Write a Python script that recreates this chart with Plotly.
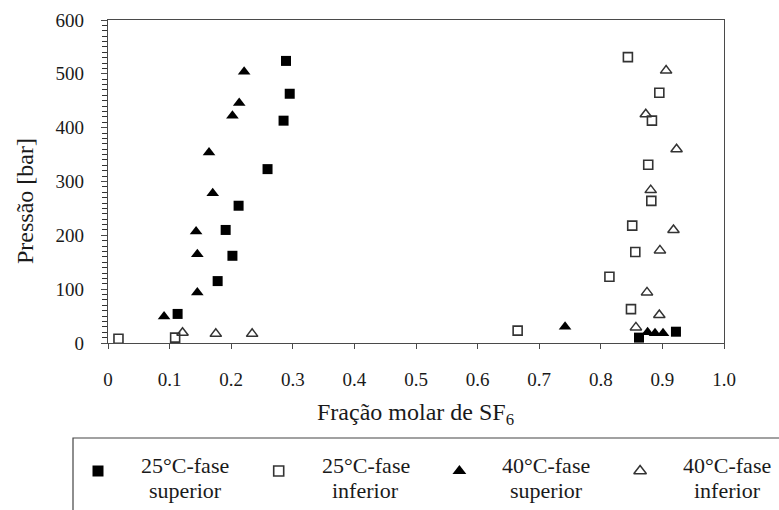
import plotly.graph_objects as go

# Phase-equilibrium data: SF6 mole fraction vs pressure (bar)
x_25_sup = [0.289, 0.295, 0.285, 0.259, 0.212, 0.191, 0.202, 0.178, 0.113, 0.862, 0.922]
p_25_sup = [524, 463, 413, 323, 255, 210, 162, 115, 54, 10, 21]

x_25_inf = [0.017, 0.109, 0.665, 0.844, 0.895, 0.883, 0.877, 0.882, 0.851, 0.856, 0.814, 0.849]
p_25_inf = [8, 10, 23, 531, 465, 413, 331, 264, 218, 169, 123, 63]

x_40_sup = [0.221, 0.213, 0.202, 0.164, 0.170, 0.143, 0.145, 0.145, 0.091, 0.742, 0.876, 0.888, 0.901]
p_40_sup = [504, 446, 422, 354, 278, 207, 165, 94, 49, 30, 20, 18, 18]

x_40_inf = [0.121, 0.175, 0.234, 0.906, 0.873, 0.923, 0.881, 0.918, 0.896, 0.875, 0.895, 0.857]
p_40_inf = [19, 17, 17, 506, 425, 360, 284, 210, 172, 94, 52, 29]

x_tick_vals = [0, 0.1, 0.2, 0.3, 0.4, 0.5, 0.6, 0.7, 0.8, 0.9, 1.0]
x_tick_text = ["0", "0.1", "0.2", "0.3", "0.4", "0.5", "0.6", "0.7", "0.8", "0.9", "1.0"]

legend_line1 = ["25°C-fase", "25°C-fase", "40°C-fase", "40°C-fase"]
legend_line2 = ["superior", "inferior", "superior", "inferior"]

W, H = 779, 510
SERIF = "Liberation Serif"
TEXT = "#1a1a1a"
FRAME = "#4a4a4a"

styles = [
    dict(symbol="square", size=10, color="#000000", line=dict(width=0)),
    dict(symbol="square-open", size=9, color="#333333", line=dict(width=1.6)),
    dict(symbol="triangle-up", size=11, color="#000000", line=dict(width=0)),
    dict(symbol="triangle-up-open", size=10, color="#333333", line=dict(width=1.5)),
]
data = [(x_25_sup, p_25_sup), (x_25_inf, p_25_inf), (x_40_sup, p_40_sup), (x_40_inf, p_40_inf)]

fig = go.Figure()
for (xs, ps), st, l1, l2 in zip(data, styles, legend_line1, legend_line2):
    fig.add_trace(go.Scatter(
        x=xs, y=ps, mode="markers", name=f"{l1} {l2}",
        marker=st, cliponaxis=False, showlegend=False,
        xaxis="x", yaxis="y",
    ))

# Legend drawn in a page-sized pixel overlay (x2/y2)
leg_x0, leg_step, leg_marker_y = 98, 180.7, 471
text_dx, line1_y, line2_y = 87, 465, 490
for i, st in enumerate(styles):
    mx = leg_x0 + i * leg_step
    fig.add_trace(go.Scatter(
        x=[mx], y=[leg_marker_y], mode="markers",
        marker=dict(st, size=st["size"] + 1), showlegend=False,
        xaxis="x2", yaxis="y2", hoverinfo="skip",
    ))
    for txt, ty in ((legend_line1[i], line1_y), (legend_line2[i], line2_y)):
        fig.add_annotation(
            x=mx + text_dx, y=ty, xref="x2", yref="y2", text=txt, showarrow=False,
            xanchor="center", yanchor="middle",
            font=dict(family=SERIF, size=22, color=TEXT),
        )

fig.add_shape(type="rect", xref="x2", yref="y2", x0=73, y0=438, x1=820, y1=560,
              line=dict(color="#444444", width=1.2), fillcolor="rgba(0,0,0,0)")

# Axis titles
fig.add_annotation(x=415, y=414, xref="x2", yref="y2", showarrow=False,
                   text="Fração molar de SF<sub>6</sub>", xanchor="center", yanchor="middle",
                   font=dict(family=SERIF, size=24, color=TEXT))
fig.add_annotation(x=25, y=201, xref="x2", yref="y2", showarrow=False, textangle=-90,
                   text="Pressão [bar]", xanchor="center", yanchor="middle",
                   font=dict(family=SERIF, size=24, color=TEXT))

fig.update_layout(
    width=W, height=H,
    margin=dict(l=0, r=0, t=0, b=0),
    paper_bgcolor="white", plot_bgcolor="rgba(0,0,0,0)",
    font=dict(family=SERIF, color=TEXT),
    xaxis=dict(
        domain=[108 / W, 724 / W], range=[0, 1], anchor="y",
        tickmode="array", tickvals=x_tick_vals, ticktext=x_tick_text,
        ticks="outside", ticklen=5, tickcolor=FRAME, tickwidth=1,
        showline=True, linecolor=FRAME, linewidth=1.2, mirror=True,
        showgrid=False, zeroline=False, automargin=False,
        ticklabelstandoff=14,
        tickfont=dict(family=SERIF, size=19, color=TEXT),
    ),
    yaxis=dict(
        domain=[(H - 343) / H, (H - 20) / H], range=[0, 600], anchor="x",
        tick0=0, dtick=100,
        ticks="outside", ticklen=6, tickcolor=FRAME, tickwidth=1,
        minor=dict(tick0=0, dtick=10, ticks="outside", ticklen=5,
                   tickcolor="#333333", tickwidth=1, showgrid=False),
        showline=True, linecolor=FRAME, linewidth=1.2, mirror=True,
        showgrid=False, zeroline=False, automargin=False,
        ticklabelstandoff=13,
        tickfont=dict(family=SERIF, size=19, color=TEXT),
    ),
    xaxis2=dict(domain=[0, 1], range=[0, W], anchor="y2", visible=False, fixedrange=True),
    yaxis2=dict(domain=[0, 1], range=[H, 0], anchor="x2", visible=False, fixedrange=True),
)

fig.write_html("out.html")
